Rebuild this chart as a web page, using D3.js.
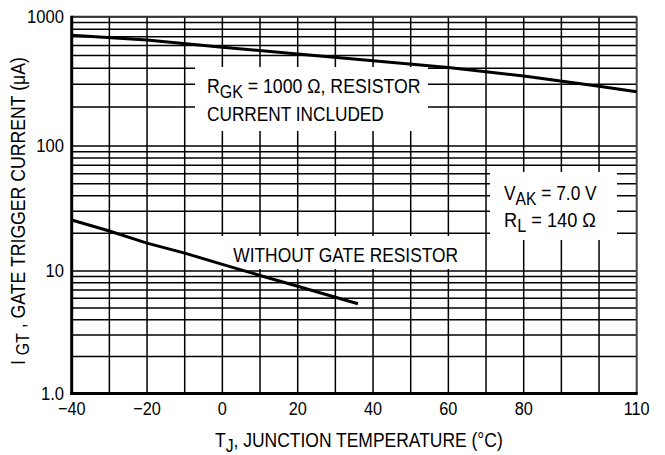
<!DOCTYPE html>
<html><head><meta charset="utf-8">
<script src="https://cdn.jsdelivr.net/npm/d3@7"></script>
<style>body{margin:0;background:#fff}svg{display:block}</style>
</head><body>
<svg id="c" width="665" height="455"></svg>
<script>
// ---- data ----
const xTickValues = [-40, -20, 0, 20, 40, 60, 80, 110];
const xTickLabels = ["\u221240", "\u221220", "0", "20", "40", "60", "80", "110"];
const yTickValues = [1, 10, 100, 1000];
const yTickLabels = ["1.0", "10", "100", "1000"];
const tempWithR = [-40, -20, 0, 20, 40, 60, 80, 100, 110];
const igtWithR = [720, 660, 580, 515, 457, 405, 348, 290, 263];
const tempNoR = [-40, -30, -20, -10, 0, 10, 20, 30, 36];
const igtNoR = [25.6, 20.9, 16.7, 13.9, 11.3, 9.2, 7.5, 6.1, 5.4];

// ---- layout ----
const svg = d3.select("#c");
const FONT = "'Liberation Sans', Arial, Helvetica, sans-serif";
const x = d3.scaleLinear().domain([-40, 110]).range([71.7, 636.7]);
const y = d3.scaleLog().domain([1, 10, 100, 1000]).range([393.5, 271, 146, 16.7]);

// grid
const g = svg.append("g");
const vGrid = d3.range(-30, 110, 10);
g.selectAll("line.v").data(vGrid).join("line")
  .attr("x1", d => x(d)).attr("x2", d => x(d))
  .attr("y1", y(1000)).attr("y2", y(1))
  .attr("stroke", "#000").attr("stroke-width", 1.5);
const hGrid = [];
for (let k = 0; k < 3; k++) for (let m = 2; m <= 10; m++) hGrid.push(m * Math.pow(10, k));
g.selectAll("line.h").data(hGrid).join("line")
  .attr("x1", x(-40)).attr("x2", x(110))
  .attr("y1", d => y(d)).attr("y2", d => y(d))
  .attr("stroke", "#000").attr("stroke-width", 1.5);

// white label boxes that break the grid
const boxes = [
  {x0: 195, x1: 428, y0: 67, y1: 131},
  {x0: 217, x1: 475, y0: 236, y1: 269},
  {x0: 490, x1: 617, y0: 172, y1: 240}
];
svg.append("g").selectAll("rect").data(boxes).join("rect")
  .attr("x", d => d.x0).attr("y", d => d.y0)
  .attr("width", d => d.x1 - d.x0).attr("height", d => d.y1 - d.y0)
  .attr("fill", "#fff");

// frame
svg.append("line").attr("x1", x(-40)).attr("x2", x(110)).attr("y1", y(1000)).attr("y2", y(1000))
  .attr("stroke", "#333").attr("stroke-width", 2);
svg.append("line").attr("x1", x(110)).attr("x2", x(110)).attr("y1", y(1000)).attr("y2", y(1))
  .attr("stroke", "#444").attr("stroke-width", 2);
svg.append("line").attr("x1", x(-40)).attr("x2", x(-40)).attr("y1", y(1000) - 1).attr("y2", y(1) + 1.5)
  .attr("stroke", "#000").attr("stroke-width", 3);
svg.append("line").attr("x1", x(-40) - 1.5).attr("x2", x(110) + 1).attr("y1", y(1)).attr("y2", y(1))
  .attr("stroke", "#000").attr("stroke-width", 3);

// curves
const line = d3.line().x(d => x(d[0])).y(d => y(d[1]));
svg.append("path").datum(tempWithR.map((t, i) => [t, igtWithR[i]]))
  .attr("d", line).attr("fill", "none").attr("stroke", "#000").attr("stroke-width", 3);
svg.append("path").datum(tempNoR.map((t, i) => [t, igtNoR[i]]))
  .attr("d", line).attr("fill", "none").attr("stroke", "#000").attr("stroke-width", 3);

// ticks
svg.append("g").selectAll("text").data(yTickValues).join("text")
  .attr("transform", d => `translate(64,${y(d) + 6}) scale(0.95,1)`)
  .attr("text-anchor", "end").attr("font-family", FONT).attr("font-size", 17.5)
  .attr("fill", "#000").text((d, i) => yTickLabels[i]);
svg.append("g").selectAll("text").data(xTickValues).join("text")
  .attr("transform", d => `translate(${x(d)},415) scale(0.88,1)`)
  .attr("text-anchor", "middle").attr("font-family", FONT).attr("font-size", 18.5)
  .attr("fill", "#000").text((d, i) => xTickLabels[i]);

// text helper: parts = [[str, shift, size], ...]; fit to target width
function label(px, py, parts, width, opts = {}) {
  const base = opts.size || 20;
  const t = svg.append("text")
    .attr("font-family", FONT).attr("font-size", base)
    .attr("fill", "#000").attr("text-anchor", "start")
    .attr("transform", `translate(${px},${py})`);
  let cur = 0;
  parts.forEach(([s, sh, sz]) => {
    const ts = t.append("tspan").attr("dy", sh - cur).text(s);
    if (sz) ts.attr("font-size", sz);
    cur = sh;
  });
  const w = t.node().getComputedTextLength();
  const sx = width / w;
  t.attr("transform", `translate(${px},${py})${opts.rot ? " rotate(-90)" : ""} scale(${sx},1)`);
  return t;
}

label(207, 93.3, [["R", 0], ["GK", 5, 18], [" = 1000 \u03A9, RESISTOR", 0]], 213.7);
label(207, 120.5, [["CURRENT INCLUDED", 0]], 177);
label(233.3, 261.7, [["WITHOUT GATE RESISTOR", 0]], 225);
label(504, 200, [["V", 0], ["AK", 5, 18], [" = 7.0 V", 0]], 92.7);
label(504, 226.7, [["R", 0], ["L", 5, 18], [" = 140 \u03A9", 0]], 92);
label(215, 446.7, [["T", 0], ["J", 5, 18], [", JUNCTION TEMPERATURE (\u00B0C)", 0]], 288);
label(25, 365, [["I ", 0], ["GT", 4, 18], [" , GATE TRIGGER CURRENT (\u03BCA)", 0]], 308, {rot: true});
</script>
</body></html>
